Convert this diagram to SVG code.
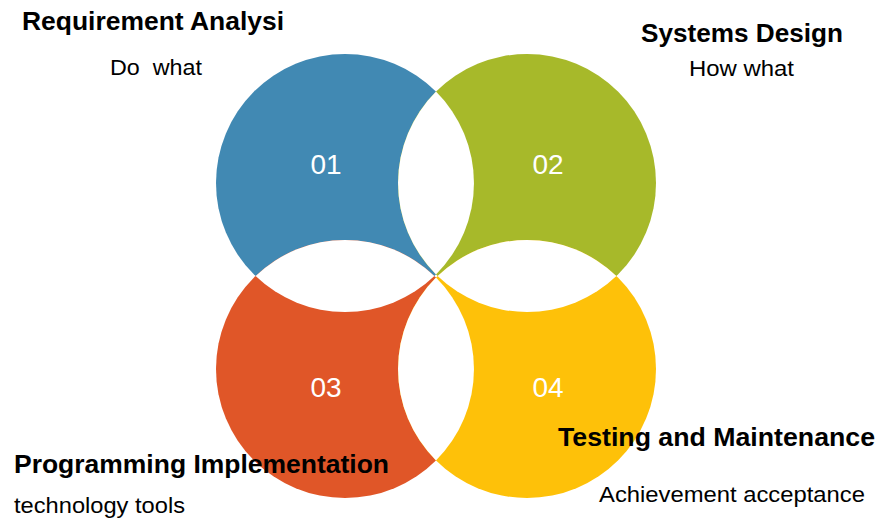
<svg xmlns="http://www.w3.org/2000/svg" width="878" height="520" viewBox="0 0 878 520">
  <style>
    .num { font-family: "Liberation Sans", Arial, sans-serif; font-size: 28px; fill: #ffffff; text-anchor: middle; }
    .head { font-family: "Liberation Sans", Arial, sans-serif; font-size: 25px; font-weight: bold; fill: #000000; }
    .sub { font-family: "Liberation Sans", Arial, sans-serif; font-size: 22px; fill: #000000; }
    .gap { fill: #ffffff; }
  </style>
  <rect width="878" height="520" fill="#ffffff"/>

  <!-- step 01 -->
  <g id="node-01">
    <circle cx="345" cy="183" r="129" fill="#4189B3"/>
    <text class="num" x="326" y="174">01</text>
    <text class="head" x="22" y="30" textLength="262" lengthAdjust="spacingAndGlyphs">Requirement Analysi</text>
    <text class="sub" x="110" y="75" textLength="92" lengthAdjust="spacingAndGlyphs" xml:space="preserve">Do  what</text>
  </g>

  <!-- step 02 -->
  <g id="node-02">
    <circle cx="527" cy="183" r="129" fill="#A7B92A"/>
    <text class="num" x="548" y="174">02</text>
    <text class="head" x="641" y="42" textLength="202" lengthAdjust="spacingAndGlyphs">Systems Design</text>
    <text class="sub" x="689" y="76" textLength="105" lengthAdjust="spacingAndGlyphs">How what</text>
  </g>

  <!-- step 03 -->
  <g id="node-03">
    <circle cx="345" cy="369" r="129" fill="#E05628"/>
    <text class="num" x="326" y="397">03</text>
  </g>

  <!-- step 04 -->
  <g id="node-04">
    <circle cx="527" cy="369" r="129" fill="#FEC109"/>
    <text class="num" x="548" y="397">04</text>
  </g>

  <!-- white lenses where neighbouring circles overlap -->
  <g id="overlaps" class="gap">
    <path d="M436,91.6 A129,129 0 0 1 436,274.4 A129,129 0 0 1 436,91.6 Z"/>
    <path d="M436,277.6 A129,129 0 0 1 436,460.4 A129,129 0 0 1 436,277.6 Z"/>
    <path d="M255.6,276 A129,129 0 0 1 434.4,276 A129,129 0 0 1 255.6,276 Z"/>
    <path d="M437.6,276 A129,129 0 0 1 616.4,276 A129,129 0 0 1 437.6,276 Z"/>
  </g>

  <!-- captions of the lower steps sit on top of the shapes -->
  <g id="labels-03">
    <text class="head" x="14" y="473" textLength="375" lengthAdjust="spacingAndGlyphs">Programming Implementation</text>
    <text class="sub" x="14" y="513" textLength="171" lengthAdjust="spacingAndGlyphs">technology tools</text>
  </g>
  <g id="labels-04">
    <text class="head" x="558" y="446" textLength="317" lengthAdjust="spacingAndGlyphs">Testing and Maintenance</text>
    <text class="sub" x="599" y="502" textLength="266" lengthAdjust="spacingAndGlyphs">Achievement acceptance</text>
  </g>
</svg>
